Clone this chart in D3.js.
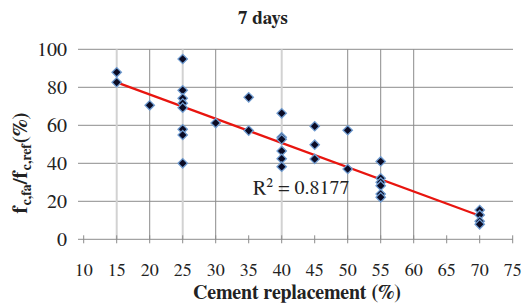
<!DOCTYPE html>
<html>
<head>
<meta charset="utf-8">
<script src="https://cdn.jsdelivr.net/npm/d3@7"></script>
</head>
<body style="margin:0">
<script>
// data
var xVals = [15, 15, 20, 25, 25, 25, 25, 25, 25, 25, 25, 30, 35, 35,
             40, 40, 40, 40, 40, 40, 45, 45, 45, 50, 50,
             55, 55, 55, 55, 55, 55, 70, 70, 70, 70];
var yVals = [87.9, 82.6, 70.5, 94.9, 78.4, 74.2, 71.6, 69.3, 57.9, 54.9, 40.0, 61.2, 74.7, 57.2,
             66.3, 53.7, 52.6, 46.5, 42.4, 38.2, 59.5, 49.8, 42.3, 57.4, 37.0,
             41.0, 32.1, 30.0, 28.2, 23.8, 22.1, 15.4, 12.8, 9.5, 7.9];
var xTicks = [10, 15, 20, 25, 30, 35, 40, 45, 50, 55, 60, 65, 70, 75];
var yTicks = [0, 20, 40, 60, 80, 100];
var darkGrid = [20, 30, 50, 55, 60];
var lightGrid = [15, 25, 40];
var trendX = [15, 70];
var slope = -1.276, intercept = 101.74;
var r2Label = "R\u00b2 = 0.8177";

var font = "FreeSerif";
var width = 522, height = 306;
var svg = d3.select("body").append("svg")
    .attr("width", width)
    .attr("height", height);

var x = d3.scaleLinear().domain([10, 75]).range([83.7, 512.7]);
var y = d3.scaleLinear().domain([0, 100]).range([239.3, 49.3]);

// horizontal gridlines
svg.selectAll(".hgrid")
    .data(yTicks.filter(function(d) { return d > 0; }))
    .enter().append("line")
    .attr("x1", 78).attr("x2", 513)
    .attr("y1", function(d) { return y(d); })
    .attr("y2", function(d) { return y(d); })
    .attr("stroke", "#8c8c8c").attr("stroke-width", 1);

// vertical gridlines
svg.selectAll(".lgrid")
    .data(lightGrid)
    .enter().append("line")
    .attr("x1", function(d) { return x(d); })
    .attr("x2", function(d) { return x(d); })
    .attr("y1", y(100)).attr("y2", y(0))
    .attr("stroke", "#d2d2d2").attr("stroke-width", 2);

svg.selectAll(".dgrid")
    .data(darkGrid)
    .enter().append("line")
    .attr("x1", function(d) { return x(d); })
    .attr("x2", function(d) { return x(d); })
    .attr("y1", y(100)).attr("y2", y(0))
    .attr("stroke", "#8c8c8c").attr("stroke-width", 1);

// x axis line and ticks
svg.append("line")
    .attr("x1", 78).attr("x2", 513)
    .attr("y1", y(0)).attr("y2", y(0))
    .attr("stroke", "#8c8c8c");
svg.selectAll(".xtick")
    .data(xTicks)
    .enter().append("line")
    .attr("x1", function(d) { return x(d); })
    .attr("x2", function(d) { return x(d); })
    .attr("y1", y(0) - 4).attr("y2", y(0) + 4)
    .attr("stroke", "#8c8c8c");

svg.selectAll(".xlab")
    .data(xTicks)
    .enter().append("text")
    .attr("x", function(d) { return x(d); })
    .attr("y", 276)
    .attr("text-anchor", "middle")
    .style("font-family", font)
    .style("font-size", "18px")
    .style("fill", "#222")
    .text(function(d) { return d; });

svg.selectAll(".ylab")
    .data(yTicks)
    .enter().append("text")
    .attr("x", 67)
    .attr("y", function(d) { return y(d) + 7; })
    .attr("text-anchor", "end")
    .style("font-family", font)
    .style("font-size", "20px")
    .style("fill", "#222")
    .text(function(d) { return d; });

// trendline
svg.append("line")
    .attr("x1", x(trendX[0])).attr("y1", y(intercept + slope * trendX[0]))
    .attr("x2", x(trendX[1])).attr("y2", y(intercept + slope * trendX[1]))
    .attr("stroke", "#e8150f").attr("stroke-width", 2.2);

// markers
var diamond = d3.symbol().type(d3.symbolSquare).size(44);
svg.selectAll(".pt")
    .data(xVals)
    .enter().append("path")
    .attr("d", diamond)
    .attr("transform", function(d, i) {
        return "translate(" + x(d) + "," + y(yVals[i]) + ") rotate(45)";
    })
    .attr("fill", "#0b0b24")
    .attr("stroke", "#6f9bd0")
    .attr("stroke-width", 1.3);

// R^2 label
svg.append("text")
    .attr("x", 253).attr("y", 194)
    .style("font-family", font)
    .style("font-size", "20px")
    .style("fill", "#222")
    .text(r2Label);

// title
svg.append("text")
    .attr("x", 263).attr("y", 24)
    .attr("text-anchor", "middle")
    .style("font-family", font)
    .style("font-size", "19px")
    .style("font-weight", "bold")
    .style("fill", "#222")
    .text("7 days");

// x axis title
svg.append("text")
    .attr("x", 297).attr("y", 299)
    .attr("text-anchor", "middle")
    .style("font-family", font)
    .style("font-size", "20px")
    .style("font-weight", "bold")
    .style("fill", "#222")
    .text("Cement replacement (%)");

// y axis title with subscripts
var yt = svg.append("text")
    .attr("transform", "translate(27,163) rotate(-90)")
    .attr("text-anchor", "middle")
    .style("font-family", font)
    .style("font-size", "21px")
    .style("font-weight", "bold")
    .style("fill", "#222");
yt.append("tspan").text("f");
yt.append("tspan").attr("dy", 4).style("font-size", "14px").text("c,fa");
yt.append("tspan").attr("dy", -4).text("/f");
yt.append("tspan").attr("dy", 4).style("font-size", "14px").text("c,ref");
yt.append("tspan").attr("dy", -4).text("(%)");
</script>
</body>
</html>
